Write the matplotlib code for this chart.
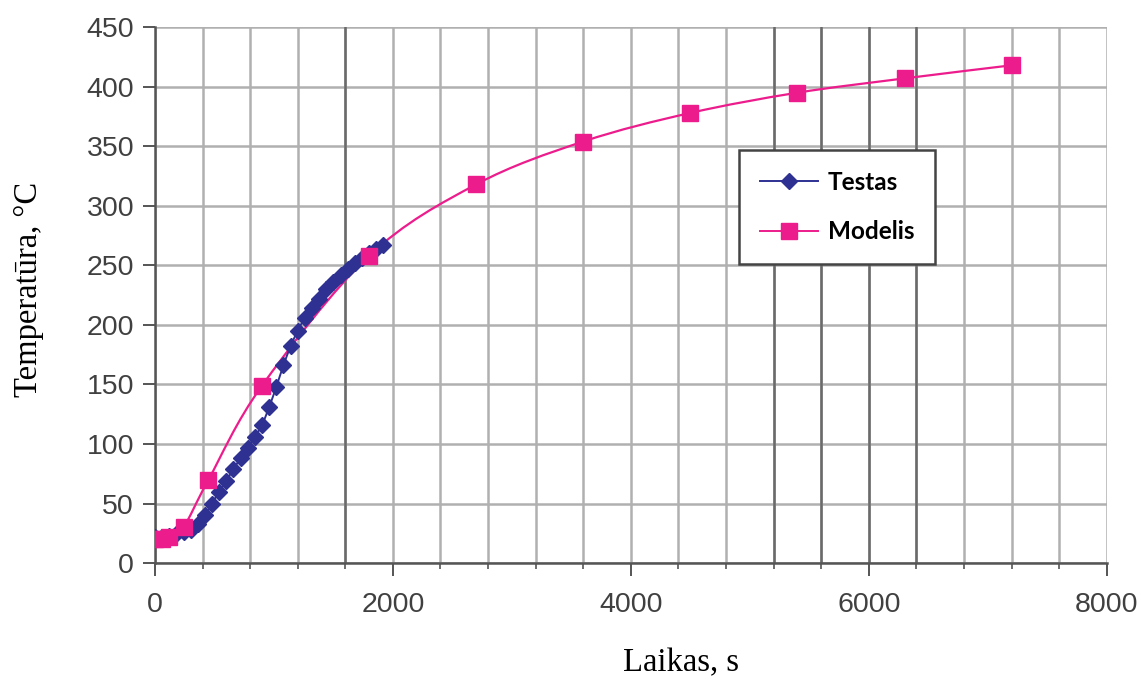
"""Testas vs Modelis: temperatūros kitimas laike."""

import matplotlib
matplotlib.use("Agg")
import matplotlib.pyplot as plt
import numpy as np
from matplotlib.path import Path
from matplotlib.patches import PathPatch
from matplotlib.lines import Line2D
from matplotlib.ticker import MultipleLocator

# eksperimentiniai matavimai (kas 60 s)
test_time = [0, 60, 120, 180, 240, 300, 360, 420, 480, 540, 600, 660, 720,
             780, 840, 900, 960, 1020, 1080, 1140, 1200, 1260, 1320, 1380,
             1440, 1500, 1560, 1620, 1680, 1740, 1800, 1860, 1920]
test_temp = [22, 22, 23, 24, 26, 28, 33, 40, 50, 60, 69, 79, 88,
             97, 106, 116, 131, 148, 166, 182, 195, 206, 214, 222,
             230, 236, 242, 247, 252, 256, 260, 264, 267]

# modelio rezultatai
model_time = [0, 60, 120, 240, 450, 900, 1800, 2700, 3600, 4500, 5400, 6300, 7200]
model_temp = [20, 20.5, 22, 30, 70, 149, 258, 318, 354, 378, 395, 407, 418]

x_ticks = [0, 2000, 4000, 6000, 8000]
y_ticks = list(range(0, 451, 50))

BLUE = "#2E3192"
PINK = "#EC1C8C"
TICK_COLOR = "#404040"
GRID_COLOR = "#b0b0b0"
DARK_GRID_X = [1600, 5200, 5600, 6000, 6400]


def smooth_path(xs, ys):
    """Glotni kreivė per taškus (Catmull-Rom -> Bezier), kaip Excel 'smoothed line'."""
    pts = np.column_stack([xs, ys]).astype(float)
    n = len(pts)
    verts = [pts[0]]
    codes = [Path.MOVETO]
    for i in range(n - 1):
        p0 = pts[i - 1] if i > 0 else pts[i]
        p1 = pts[i]
        p2 = pts[i + 1]
        p3 = pts[i + 2] if i + 2 < n else pts[i + 1]
        c1 = p1 + (p2 - p0) / 6.0
        c2 = p2 - (p3 - p1) / 6.0
        verts += [c1, c2, p2]
        codes += [Path.CURVE4] * 3
    return Path(verts, codes)


def main() -> None:
    fig = plt.figure(figsize=(11.41, 6.80), dpi=100)
    ax = fig.add_axes([0.1358, 0.172, 0.8342, 0.788])

    ax.set_xlim(0, 8000)
    ax.set_ylim(0, 450)

    # tinklelis kas 400 s ir kas 50 °C
    ax.xaxis.set_major_locator(MultipleLocator(2000))
    ax.xaxis.set_minor_locator(MultipleLocator(400))
    ax.yaxis.set_major_locator(MultipleLocator(50))
    ax.grid(True, which="both", axis="x", color=GRID_COLOR, linewidth=1.8)
    ax.grid(True, which="major", axis="y", color=GRID_COLOR, linewidth=1.8)
    for xv in DARK_GRID_X:
        ax.axvline(xv, color="#6a6a6a", linewidth=1.8, zorder=0.6)
    ax.set_axisbelow(True)

    ax.add_patch(PathPatch(smooth_path(model_time, model_temp), facecolor="none",
                           edgecolor=PINK, linewidth=1.6, zorder=2))
    ax.add_patch(PathPatch(smooth_path(test_time, test_temp), facecolor="none",
                           edgecolor=BLUE, linewidth=1.4, zorder=3))
    ax.plot(test_time, test_temp, linestyle="none", marker="D", markersize=8.5,
            color=BLUE, zorder=4)
    ax.plot(model_time, model_temp, linestyle="none", marker="s", markersize=11,
            color=PINK, zorder=5)

    for side in ("top", "right"):
        ax.spines[side].set_visible(False)
    for side in ("left", "bottom"):
        ax.spines[side].set_color("#555555")
        ax.spines[side].set_linewidth(1.8)

    ax.set_xticks(x_ticks)
    ax.set_yticks(y_ticks)
    ax.tick_params(axis="both", which="major", direction="out", length=9, width=1.4,
                   color="#555555", labelsize=20.5, labelcolor=TICK_COLOR)
    ax.tick_params(axis="x", which="major", pad=12)
    ax.tick_params(axis="y", which="major", pad=6)
    ax.tick_params(axis="x", which="minor", direction="out", length=4, width=1.2,
                   color="#555555")
    for lab in ax.get_xticklabels() + ax.get_yticklabels():
        lab.set_fontfamily("Liberation Sans")

    ax.set_xlabel("Laikas, s", fontfamily="Liberation Serif", fontsize=23.5)
    ax.xaxis.set_label_coords(0.553, -0.158)
    ax.set_ylabel("Temperatūra, °C", fontfamily="Liberation Serif", fontsize=23.5)
    ax.yaxis.set_label_coords(-0.117, 0.51)

    handles = [
        Line2D([], [], color=BLUE, linewidth=1.4, marker="D", markersize=8),
        Line2D([], [], color=PINK, linewidth=1.4, marker="s", markersize=11),
    ]
    leg = ax.legend(handles, ["Testas", "Modelis"], loc="upper left",
                    bbox_to_anchor=(0.614, 0.771), frameon=True, fancybox=False,
                    prop={"family": "Lato", "weight": "bold", "size": 17.5},
                    handlelength=2.4, borderpad=0.85, labelspacing=1.1,
                    handletextpad=0.4, borderaxespad=0.0)
    leg.get_frame().set_edgecolor("#444444")
    leg.get_frame().set_linewidth(1.8)
    leg.get_frame().set_facecolor("white")
    leg.get_frame().set_alpha(1.0)

    fig.savefig("out.png", dpi=100)


if __name__ == "__main__":
    main()
